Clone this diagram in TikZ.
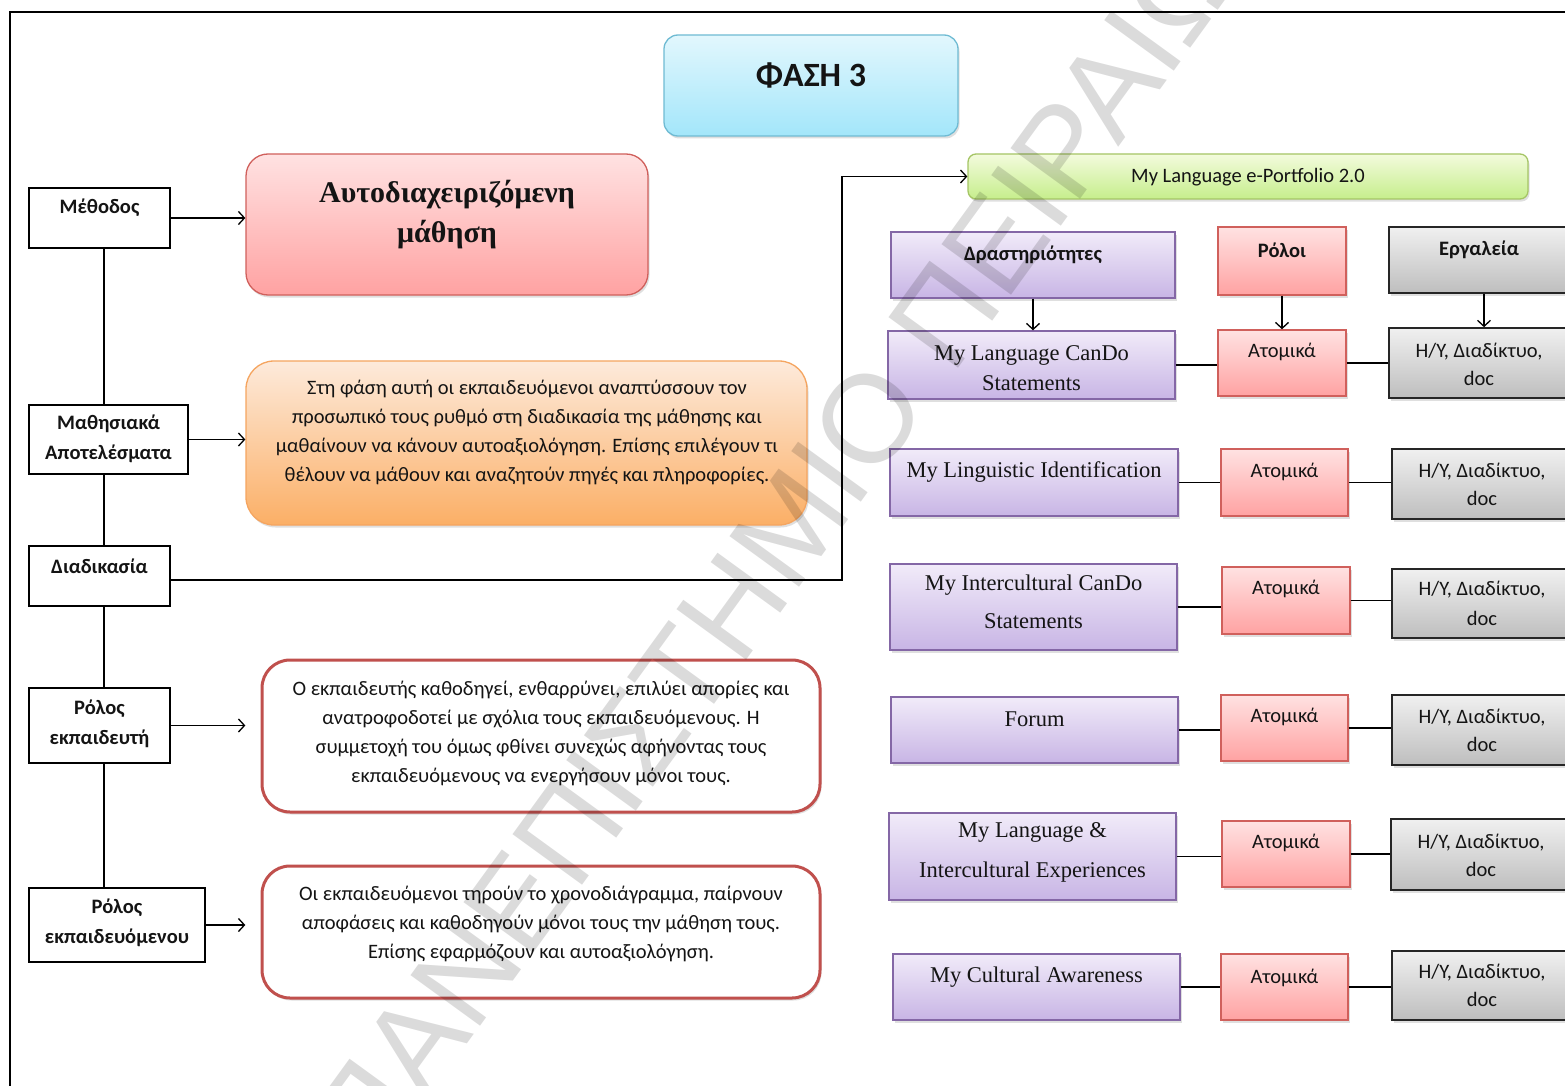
\documentclass[tikz,border=0pt]{standalone}
\usepackage{fontspec}
\setmainfont{Carlito}
\newfontfamily\serifgr{Liberation Serif}
\newfontfamily\wmfont{Liberation Sans}
\usetikzlibrary{arrows.meta,shadows}
\definecolor{cyT}{HTML}{E2F7FD}\definecolor{cyB}{HTML}{A3E6FA}\definecolor{cyD}{HTML}{6FBBD3}
\definecolor{rdT}{HTML}{FFE2E2}\definecolor{rdB}{HTML}{FFA2A2}\definecolor{rdD}{HTML}{D0605C}
\definecolor{orT}{HTML}{FDEADB}\definecolor{orB}{HTML}{FBAF66}\definecolor{orD}{HTML}{F5A560}
\definecolor{grT}{HTML}{F3FBDD}\definecolor{grB}{HTML}{C6EE8C}\definecolor{grD}{HTML}{A5C565}
\definecolor{puT}{HTML}{F1EBF9}\definecolor{puB}{HTML}{C8B5E5}\definecolor{puD}{HTML}{8467A6}
\definecolor{gyT}{HTML}{F0F0F0}\definecolor{gyB}{HTML}{BEBEBE}
\definecolor{olR}{HTML}{C0504D}
\definecolor{ink}{HTML}{141414}
\begin{document}
\begin{tikzpicture}[x=1pt,y=-1pt,
  shad/.style={drop shadow={shadow xshift=1.5pt,shadow yshift=-2.5pt,opacity=0.25}},
  lbox/.style={draw=black,line width=1.4,fill=white,inner sep=0},
  phasebox/.style={draw=cyD,line width=1.3,rounded corners=14,top color=cyT,bottom color=cyB,shad,inner sep=0},
  autobox/.style={draw=rdD,line width=1.3,rounded corners=22,top color=rdT,bottom color=rdB,shad,inner sep=0},
  orbox/.style={draw=orD,line width=1.3,rounded corners=28,top color=orT,bottom color=orB,shad,inner sep=0},
  olbox/.style={draw=olR,line width=3,rounded corners=28,fill=white,shad,inner sep=0},
  grbox/.style={draw=grD,line width=1.3,rounded corners=8,top color=grT,bottom color=grB,shad,inner sep=0},
  pubox/.style={draw=puD,line width=1.4,top color=puT,bottom color=puB,shad,inner sep=0},
  rdbox/.style={draw=rdD,line width=1.4,top color=rdT,bottom color=rdB,shad,inner sep=0},
  gybox/.style={draw=black!85,line width=1.6,top color=gyT,bottom color=gyB,shad,inner sep=0},
  tx/.style={inner sep=0,align=center,text=ink,font=\fontsize{20.5}{29}\selectfont},
  lab/.style={inner sep=0,align=center,text=ink,font=\bfseries\fontsize{20.5}{30}\selectfont},
  ser/.style={inner sep=0,align=center,text=ink,font=\serifgr\fontsize{22.5}{30}\selectfont},
  conn/.style={line width=1.3,draw=black},
  arr/.style={conn,-{Straight Barb[length=6pt,width=13pt,line width=1.3pt]}}]
\useasboundingbox (0,0) rectangle (1565,1086);
\clip (0,0) rectangle (1565,1086);
\fill[white] (0,0) rectangle (1565,1086);
\draw[line width=1.3] (10,1090) -- (10,12) -- (1570,12);

% title
\node[phasebox,minimum width=294,minimum height=101] (phase) at (811,85.5) {};
\node[inner sep=0,text=ink,font=\bfseries\fontsize{34}{40}\selectfont] (phaset) at (811,75) {ΦΑΣΗ 3};

% left column
\coordinate (spine) at (104,0);
\node[lbox,minimum width=141,minimum height=60] (meth) at (99.5,218) {};
\node[lab] (metht) at (99.5,208) {Μέθοδος};
\node[lbox,minimum width=159,minimum height=69] (outc) at (108.5,439.5) {};
\node[lab] (outct) at (108.5,438.5) {Μαθησιακά\\Αποτελέσματα};
\node[lbox,minimum width=141,minimum height=60] (proc) at (99.5,576) {};
\node[lab] (proct) at (99.5,566) {Διαδικασία};
\node[lbox,minimum width=141,minimum height=75] (trole) at (99.5,725.5) {};
\node[lab] (trolet) at (99.5,724) {Ρόλος\\εκπαιδευτή};
\node[lbox,minimum width=176,minimum height=74] (lrole) at (117,925) {};
\node[lab] (lrolet) at (117,923) {Ρόλος\\εκπαιδευόμενου};

\draw[conn] (meth.south -| spine) -- (outc.north -| spine);
\draw[conn] (outc.south -| spine) -- (proc.north -| spine);
\draw[conn] (proc.south -| spine) -- (trole.north -| spine);
\draw[conn] (trole.south -| spine) -- (lrole.north -| spine);

% middle column
\node[autobox,minimum width=402,minimum height=141] (auto) at (447,224.5) {};
\node[inner sep=0,align=center,text=ink,font=\serifgr\bfseries\fontsize{30}{40}\selectfont] (autot) at (447,215) {Αυτοδιαχειριζόμενη\\μάθηση};
\node[orbox,minimum width=561,minimum height=164] (orng) at (526.5,443) {};
\node[tx] (orngt) at (527,432) {Στη φάση αυτή οι εκπαιδευόμενοι αναπτύσσουν τον\\προσωπικό τους ρυθμό στη διαδικασία της μάθησης και\\μαθαίνουν να κάνουν αυτοαξιολόγηση. Επίσης επιλέγουν τι\\θέλουν να μάθουν και αναζητούν πηγές και πληροφορίες.};
\node[olbox,minimum width=558,minimum height=152] (red1) at (541,736) {};
\node[tx] (red1t) at (541,733) {Ο εκπαιδευτής καθοδηγεί, ενθαρρύνει, επιλύει απορίες και\\ανατροφοδοτεί με σχόλια τους εκπαιδευόμενους. Η\\συμμετοχή του όμως φθίνει συνεχώς αφήνοντας τους\\εκπαιδευόμενους να ενεργήσουν μόνοι τους.};
\node[olbox,minimum width=558,minimum height=132] (red2) at (541,932) {};
\node[tx] (red2t) at (541,924) {Οι εκπαιδευόμενοι τηρούν το χρονοδιάγραμμα, παίρνουν\\αποφάσεις και καθοδηγούν μόνοι τους την μάθηση τους.\\Επίσης εφαρμόζουν και αυτοαξιολόγηση.};

\draw[arr] (meth.east) -- (meth.east -| auto.west);
\draw[arr] (outc.east) -- (outc.east -| orng.west);
\draw[arr] (trole.east) -- (trole.east -| auto.west);
\draw[arr] (lrole.east) -- (lrole.east -| auto.west);

% right part
\node[grbox,minimum width=560,minimum height=45] (green) at (1248,176.5) {};
\node[tx,font=\fontsize{20.5}{24}\selectfont] (greent) at (1248,177) {My Language e-Portfolio 2.0};
\coordinate (turn) at (842,0);
\draw[arr] ([yshift=-4pt]proc.east) -- ([yshift=-4pt]proc.east -| turn) -- (turn |- green.west) -- (green.west);

\node[pubox,minimum width=284,minimum height=66] (act) at (1033,265) {};
\node[lab] (actt) at (1033,255) {Δραστηριότητες};
\node[rdbox,minimum width=128,minimum height=68] (roles) at (1282,261) {};
\node[lab] (rolest) at (1282,250) {Ρόλοι};
\node[gybox,minimum width=180,minimum height=66] (tools) at (1479,260) {};
\node[lab] (toolst) at (1479,250) {Εργαλεία};

% rows
\node[pubox,minimum width=287,minimum height=68] (p1) at (1031.5,365) {};
\node[ser] (p1t) at (1031.5,368) {My Language CanDo\\Statements};
\node[rdbox,minimum width=128,minimum height=66] (r1) at (1282,363) {};
\node[tx] (r1t) at (1282,352) {Ατομικά};
\node[gybox,minimum width=180,minimum height=70] (g1) at (1479,363) {};
\node[tx,font=\fontsize{20.5}{28}\selectfont] (g1t) at (1479,364) {Η/Υ, Διαδίκτυο,\\doc};

\node[pubox,minimum width=288,minimum height=67] (p2) at (1034,482.5) {};
\node[ser] (p2t) at (1034,472) {My Linguistic Identification};
\node[rdbox,minimum width=127,minimum height=67] (r2) at (1284.5,482.5) {};
\node[tx] (r2t) at (1284.5,472) {Ατομικά};
\node[gybox,minimum width=180,minimum height=70] (g2) at (1482,484) {};
\node[tx,font=\fontsize{20.5}{28}\selectfont] (g2t) at (1482,484) {Η/Υ, Διαδίκτυο,\\doc};

\node[pubox,minimum width=287,minimum height=86] (p3) at (1033.5,607) {};
\node[ser,font=\serifgr\fontsize{22.5}{38}\selectfont] (p3t) at (1033.5,602) {My Intercultural CanDo\\Statements};
\node[rdbox,minimum width=128,minimum height=67] (r3) at (1286,600.5) {};
\node[tx] (r3t) at (1286,589) {Ατομικά};
\node[gybox,minimum width=180,minimum height=69] (g3) at (1482,603.5) {};
\node[tx,font=\fontsize{20.5}{30}\selectfont] (g3t) at (1482,603) {Η/Υ, Διαδίκτυο,\\doc};

\node[pubox,minimum width=287,minimum height=66] (p4) at (1034.5,730) {};
\node[ser] (p4t) at (1034.5,719) {Forum};
\node[rdbox,minimum width=127,minimum height=66] (r4) at (1284.5,728) {};
\node[tx] (r4t) at (1284.5,717) {Ατομικά};
\node[gybox,minimum width=180,minimum height=70] (g4) at (1482,730) {};
\node[tx,font=\fontsize{20.5}{28}\selectfont] (g4t) at (1482,730) {Η/Υ, Διαδίκτυο,\\doc};

\node[pubox,minimum width=287,minimum height=87] (p5) at (1032.5,856.5) {};
\node[ser,font=\serifgr\fontsize{22.5}{40}\selectfont] (p5t) at (1032.5,852) {My Language \&\\Intercultural Experiences};
\node[rdbox,minimum width=128,minimum height=66] (r5) at (1286,854) {};
\node[tx] (r5t) at (1286,843) {Ατομικά};
\node[gybox,minimum width=180,minimum height=71] (g5) at (1481,854.5) {};
\node[tx,font=\fontsize{20.5}{28}\selectfont] (g5t) at (1481,855) {Η/Υ, Διαδίκτυο,\\doc};

\node[pubox,minimum width=287,minimum height=66] (p6) at (1036.5,987) {};
\node[ser] (p6t) at (1036.5,977) {My Cultural Awareness};
\node[rdbox,minimum width=127,minimum height=66] (r6) at (1284.5,987) {};
\node[tx] (r6t) at (1284.5,978) {Ατομικά};
\node[gybox,minimum width=180,minimum height=69] (g6) at (1482,985.5) {};
\node[tx,font=\fontsize{20.5}{28}\selectfont] (g6t) at (1482,985) {Η/Υ, Διαδίκτυο,\\doc};

\draw[arr] (act.south) -- (act.south |- p1.north);
\draw[arr] (roles.south) -- (roles.south |- r1.north);
\draw[arr] ([xshift=5pt]tools.south) -- ([xshift=5pt]tools.south |- g1.north);

\foreach \i in {1,...,6}{
  \draw[conn] (p\i.east) -- (p\i.east -| r\i.west);
  \draw[conn] (r\i.east) -- (r\i.east -| g\i.west);
}

% watermark
\node[inner sep=0,rotate=54,anchor=base west,text=black,text opacity=0.14,font=\wmfont\fontsize{125}{125}\selectfont] (wmk) at (372,1175) {ΠΑΝΕΠΙΣΤΗΜΙΟ ΠΕΙΡΑΙΩΣ};
\end{tikzpicture}
\end{document}
